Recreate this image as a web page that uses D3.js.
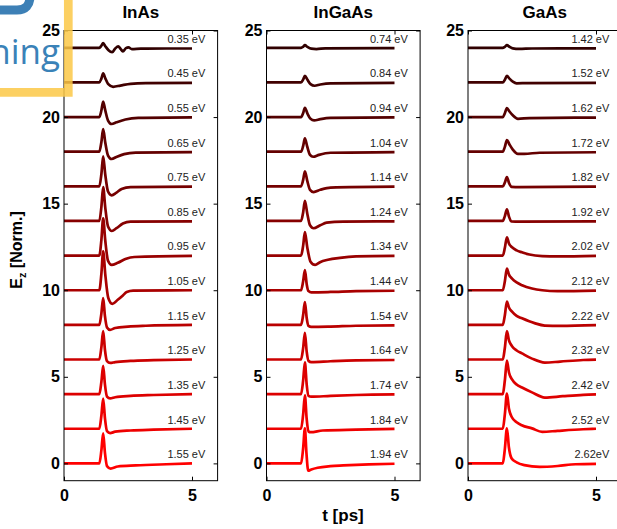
<!DOCTYPE html>
<html lang="en">
<head>
  <meta charset="UTF-8">
  <title>THz waveforms</title>
  <script src="https://d3js.org/d3.v7.min.js"></script>
  <style>
    body { margin: 0; background: #fff; }
    svg { display: block; font-family: "Liberation Sans", Arial, sans-serif; }
  </style>
</head>
<body>
  <div id="chart"></div>

  <script>
    // data: one waveform per photon energy, [t (ps), E (norm.)]
    const materials = ['InAs', 'InGaAs', 'GaAs'];
    const offsets = [24, 22, 20, 18, 16, 14, 12, 10, 8, 6, 4, 2, 0];
    const xTicks = [0, 5];
    const yTicks = [0, 5, 10, 15, 20, 25];

    const energiesInAs = ['0.35 eV', '0.45 eV', '0.55 eV', '0.65 eV', '0.75 eV', '0.85 eV', '0.95 eV',
      '1.05 eV', '1.15 eV', '1.25 eV', '1.35 eV', '1.45 eV', '1.55 eV'];
    const energiesInGaAs = ['0.74 eV', '0.84 eV', '0.94 eV', '1.04 eV', '1.14 eV', '1.24 eV', '1.34 eV',
      '1.44 eV', '1.54 eV', '1.64 eV', '1.74 eV', '1.84 eV', '1.94 eV'];
    const energiesGaAs = ['1.42 eV', '1.52 eV', '1.62 eV', '1.72 eV', '1.82 eV', '1.92 eV', '2.02 eV',
      '2.12 eV', '2.22 eV', '2.32 eV', '2.42 eV', '2.52 eV', '2.62eV'];

    const tracesInAs = [
      [[0,0],[1.38,0],[1.46,0.12],[1.53,0.27],[1.62,0.08],[1.74,-0.14],[1.88,-0.25],[2.0,-0.04],[2.12,0.08],[2.21,-0.06],[2.3,-0.2],[2.42,-0.02],[2.52,0.02],[2.65,-0.07],[3.0,-0.05],[4.0,-0.04],[5,-0.04]],
      [[0,0],[1.38,0],[1.46,0.22],[1.53,0.52],[1.61,0.25],[1.72,-0.08],[1.92,-0.25],[2.2,-0.18],[2.6,-0.08],[3.2,-0.04],[5,-0.02]],
      [[0,0],[1.38,0],[1.46,0.38],[1.53,0.9],[1.61,0.4],[1.72,-0.2],[1.86,-0.4],[2.05,-0.3],[2.4,-0.14],[2.9,-0.05],[5,-0.02]],
      [[0,0],[1.38,0],[1.46,0.55],[1.53,1.31],[1.61,0.55],[1.72,-0.22],[1.86,-0.42],[2.05,-0.3],[2.35,-0.14],[2.8,-0.05],[5,-0.02]],
      [[0,0],[1.38,0],[1.46,0.7],[1.53,1.73],[1.61,0.7],[1.72,-0.3],[1.86,-0.52],[2.05,-0.36],[2.25,-0.15],[2.6,-0.04],[5,-0.02]],
      [[0,0],[1.38,0],[1.46,0.8],[1.53,1.95],[1.61,0.8],[1.72,-0.32],[1.87,-0.58],[2.05,-0.42],[2.3,-0.15],[2.6,-0.04],[5,-0.02]],
      [[0,0],[1.38,0],[1.46,0.9],[1.53,2.15],[1.61,0.9],[1.72,-0.3],[1.86,-0.54],[2.1,-0.42],[2.4,-0.2],[2.75,-0.08],[5,-0.02]],
      [[0,0],[1.38,0],[1.46,0.95],[1.53,2.25],[1.61,0.95],[1.73,-0.45],[1.89,-0.79],[2.1,-0.55],[2.3,-0.3],[2.45,-0.1],[2.7,-0.02],[5,0]],
      [[0,0],[1.38,0],[1.46,0.65],[1.53,1.54],[1.6,0.5],[1.68,-0.15],[1.8,-0.29],[2.0,-0.18],[2.5,-0.1],[3.2,-0.05],[5,0]],
      [[0,0],[1.38,0],[1.46,0.7],[1.53,1.64],[1.6,0.55],[1.68,-0.1],[1.8,-0.2],[2.0,-0.15],[2.6,-0.08],[3.5,-0.04],[5,0]],
      [[0,0],[1.38,0],[1.46,0.7],[1.53,1.64],[1.6,0.55],[1.68,-0.14],[1.8,-0.25],[2.0,-0.18],[2.6,-0.1],[3.5,-0.05],[5,0]],
      [[0,0],[1.38,0],[1.46,0.75],[1.53,1.74],[1.6,0.6],[1.68,-0.14],[1.8,-0.25],[2.0,-0.17],[2.6,-0.1],[3.5,-0.05],[5,0]],
      [[0,0],[1.38,0],[1.46,0.75],[1.53,1.74],[1.6,0.6],[1.68,-0.16],[1.82,-0.3],[2.1,-0.18],[2.8,-0.12],[4.0,-0.05],[5,0]]
    ];

    const tracesInGaAs = [
      [[0,0],[1.35,0],[1.43,0.06],[1.5,0.15],[1.6,0.05],[1.75,-0.05],[1.95,-0.07],[2.3,-0.03],[5,-0.02]],
      [[0,0],[1.35,0],[1.43,0.16],[1.5,0.38],[1.6,0.15],[1.72,-0.1],[1.88,-0.19],[2.1,-0.12],[2.5,-0.05],[5,-0.02]],
      [[0,0],[1.35,0],[1.43,0.22],[1.5,0.54],[1.6,0.2],[1.72,-0.1],[1.86,-0.19],[2.1,-0.12],[2.5,-0.05],[5,-0.02]],
      [[0,0],[1.35,0],[1.43,0.32],[1.5,0.77],[1.59,0.3],[1.7,-0.18],[1.82,-0.29],[2.05,-0.18],[2.5,-0.06],[5,-0.02]],
      [[0,0],[1.35,0],[1.43,0.36],[1.5,0.87],[1.59,0.33],[1.7,-0.2],[1.84,-0.33],[2.1,-0.2],[2.5,-0.07],[5,-0.02]],
      [[0,0],[1.35,0],[1.43,0.48],[1.5,1.16],[1.59,0.45],[1.7,-0.25],[1.84,-0.42],[2.1,-0.25],[2.35,-0.1],[3.0,-0.04],[5,-0.02]],
      [[0,0],[1.35,0],[1.43,0.56],[1.5,1.35],[1.59,0.5],[1.72,-0.35],[1.9,-0.54],[2.09,-0.38],[2.4,-0.24],[2.87,-0.13],[3.5,-0.05],[5,-0.02]],
      [[0,0],[1.35,0],[1.43,0.5],[1.5,1.16],[1.57,0.35],[1.64,-0.05],[1.75,-0.12],[2.5,-0.1],[3.5,-0.05],[5,-0.03]],
      [[0,0],[1.35,0],[1.43,0.55],[1.5,1.31],[1.57,0.4],[1.64,-0.06],[1.75,-0.12],[2.5,-0.1],[3.5,-0.05],[5,-0.03]],
      [[0,0],[1.35,0],[1.43,0.64],[1.5,1.54],[1.57,0.45],[1.64,-0.08],[1.75,-0.15],[2.5,-0.1],[3.5,-0.05],[5,-0.03]],
      [[0,0],[1.35,0],[1.43,0.76],[1.5,1.83],[1.57,0.55],[1.64,-0.1],[1.75,-0.15],[2.5,-0.1],[3.5,-0.05],[5,-0.02]],
      [[0,0],[1.35,0],[1.43,0.8],[1.5,1.93],[1.57,0.55],[1.64,-0.15],[1.72,-0.2],[2.2,-0.1],[3.5,-0.05],[5,-0.01]],
      [[0,0],[1.35,0],[1.43,0.85],[1.5,2.03],[1.56,0.6],[1.63,-0.42],[1.75,-0.35],[2.0,-0.25],[2.5,-0.16],[3.0,-0.12],[4.0,-0.06],[5,-0.02]]
    ];

    const tracesGaAs = [
      [[0,0],[1.36,0],[1.44,0.06],[1.52,0.15],[1.62,0.06],[1.75,-0.03],[2.0,-0.06],[2.5,-0.04],[5,-0.03]],
      [[0,0],[1.36,0],[1.44,0.16],[1.52,0.38],[1.62,0.22],[1.75,0.05],[1.9,-0.05],[2.3,-0.04],[5,-0.02]],
      [[0,0],[1.36,0],[1.44,0.22],[1.52,0.52],[1.62,0.32],[1.75,0.1],[1.95,-0.1],[2.4,-0.06],[5,-0.03]],
      [[0,0],[1.36,0],[1.44,0.28],[1.52,0.67],[1.62,0.42],[1.75,0.12],[1.95,-0.12],[2.2,-0.12],[2.8,-0.06],[5,-0.03]],
      [[0,0],[1.36,0],[1.44,0.22],[1.52,0.54],[1.6,0.2],[1.7,-0.03],[2.0,-0.04],[5,-0.02]],
      [[0,0],[1.36,0],[1.44,0.28],[1.52,0.67],[1.6,0.25],[1.7,-0.03],[2.0,-0.04],[5,-0.02]],
      [[0,0],[1.36,0],[1.44,0.45],[1.52,1.06],[1.6,0.7],[1.72,0.48],[1.9,0.3],[2.11,0.19],[2.4,0.06],[2.9,-0.03],[3.5,-0.05],[5,-0.02]],
      [[0,0],[1.36,0],[1.44,0.52],[1.52,1.25],[1.6,0.9],[1.72,0.67],[1.9,0.45],[2.11,0.29],[2.5,0.1],[2.9,0],[3.5,-0.05],[5,-0.02]],
      [[0,0],[1.36,0],[1.44,0.56],[1.52,1.35],[1.6,1.0],[1.72,0.77],[1.9,0.52],[2.11,0.38],[2.6,0.1],[3.0,-0.04],[3.6,-0.06],[5,-0.02]],
      [[0,0],[1.36,0],[1.44,0.68],[1.52,1.64],[1.6,1.1],[1.72,0.77],[1.9,0.52],[2.11,0.35],[2.5,0.05],[3.0,-0.18],[3.6,-0.12],[4.5,-0.03],[5,-0.01]],
      [[0,0],[1.36,0],[1.44,0.8],[1.52,1.93],[1.6,1.25],[1.72,0.85],[1.9,0.55],[2.11,0.38],[2.5,0.1],[3.0,-0.2],[3.7,-0.12],[4.5,-0.04],[5,-0.02]],
      [[0,0],[1.36,0],[1.44,0.84],[1.52,2.03],[1.6,1.15],[1.72,0.65],[1.9,0.38],[2.1,0.2],[2.5,0.02],[2.9,-0.18],[3.5,-0.12],[4.5,-0.03],[5,0]],
      [[0,0],[1.36,0],[1.44,0.84],[1.52,2.03],[1.6,0.9],[1.7,0.3],[1.9,0.06],[2.2,-0.1],[2.8,-0.2],[3.5,-0.15],[4.2,-0.05],[5,-0.03]]
    ];

    const energyLabels = [energiesInAs, energiesInGaAs, energiesGaAs];
    const traces = [tracesInAs, tracesInGaAs, tracesGaAs];

    const width = 617;
    const height = 529;
    const panelLeft = [64, 266.5, 468];
    const panelWidth = 153.6;
    const plotTop = 30.5, plotBottom = 480.7;

    const svg = d3.select('#chart')
      .append('svg')
      .attr('width', width)
      .attr('height', height);

    const y = d3.scaleLinear().domain([-1, 25]).range([plotBottom, plotTop]);
    const color = d3.scaleLinear().domain([0, offsets.length - 1])
      .range(['rgb(48,0,0)', 'rgb(255,0,0)']);

    materials.forEach((name, p) => {
      const x = d3.scaleLinear().domain([0, 6]).range([panelLeft[p], panelLeft[p] + panelWidth]);
      const g = svg.append('g');

      const line = d3.line()
        .x(d => x(d[0]))
        .curve(d3.curveMonotoneX);

      // waveforms
      traces[p].forEach((tr, i) => {
        g.append('path')
          .datum(tr)
          .attr('d', line.y(d => y(d[1] + offsets[i])))
          .attr('fill', 'none')
          .attr('stroke', color(i))
          .attr('stroke-width', 2.7)
          .attr('stroke-linejoin', 'round');
      });

      // energy labels
      g.selectAll('text.lab')
        .data(energyLabels[p])
        .enter()
        .append('text')
        .attr('class', 'lab')
        .attr('x', x(5.52))
        .attr('y', (d, i) => y(offsets[i] + 0.3))
        .attr('text-anchor', 'end')
        .attr('font-size', '11px')
        .attr('fill', '#222')
        .text(d => d);

      // frame + inward ticks on all sides
      g.append('rect')
        .attr('x', x(0)).attr('y', plotTop)
        .attr('width', x(6) - x(0)).attr('height', plotBottom - plotTop)
        .attr('fill', 'none').attr('stroke', '#000').attr('stroke-width', 1);

      const styleAxis = sel => {
        sel.select('.domain').remove();
        sel.selectAll('line').attr('stroke', '#000');
        sel.selectAll('text')
          .attr('font-size', '16px')
          .attr('font-weight', 'bold')
          .attr('fill', '#000')
          .attr('font-family', '"Liberation Sans", Arial, sans-serif');
      };

      g.append('g').attr('transform', `translate(${x(0)},0)`)
        .call(d3.axisLeft(y).tickValues(yTicks).tickSize(-4).tickPadding(4).tickFormat(d3.format('d')))
        .call(styleAxis);
      g.append('g').attr('transform', `translate(${x(6)},0)`)
        .call(d3.axisRight(y).tickValues(yTicks).tickSize(-4).tickFormat(''))
        .call(styleAxis);
      g.append('g').attr('transform', `translate(0,${plotBottom})`)
        .call(d3.axisBottom(x).tickValues(xTicks).tickSize(-4).tickPadding(9).tickFormat(d3.format('d')))
        .call(styleAxis);
      g.append('g').attr('transform', `translate(0,${plotTop})`)
        .call(d3.axisTop(x).tickValues(xTicks).tickSize(-4).tickFormat(''))
        .call(styleAxis);

      // panel title
      g.append('text')
        .attr('x', (x(0) + x(6)) / 2)
        .attr('y', 18.3)
        .attr('text-anchor', 'middle')
        .attr('font-size', '17px')
        .attr('font-weight', 'bold')
        .text(name);
    });

    // axis titles
    svg.append('text')
      .attr('x', 343)
      .attr('y', 521)
      .attr('text-anchor', 'middle')
      .attr('font-size', '17px')
      .attr('font-weight', 'bold')
      .text('t [ps]');

    const yl = svg.append('text')
      .attr('transform', 'translate(22,250) rotate(-90)')
      .attr('text-anchor', 'middle')
      .attr('font-size', '16px')
      .attr('font-weight', 'bold');
    yl.append('tspan').text('E');
    yl.append('tspan').attr('dy', 4).attr('font-size', '11px').text('z');
    yl.append('tspan').attr('dy', -4).text(' [Norm.]');

    // logo overlay in the top-left corner of the source image
    const logo = svg.append('g');
    logo.append('path')
      .attr('d', 'M-5,10 H17 Q30,10 30,-4')
      .attr('fill', 'none')
      .attr('stroke', '#3d80b6')
      .attr('stroke-width', 9);
    logo.append('text')
      .attr('x', 60)
      .attr('y', 64)
      .attr('text-anchor', 'end')
      .attr('font-family', '"Open Sans", "Noto Sans", sans-serif')
      .attr('font-size', '35px')
      .attr('fill', '#3a82b8')
      .text('ning');
    logo.append('path')
      .attr('d', 'M0,92.3 H68.3 V0')
      .attr('fill', 'none')
      .attr('stroke', 'rgb(251,200,70)')
      .attr('stroke-opacity', 0.85)
      .attr('stroke-width', 8.7);
  </script>
</body>
</html>
